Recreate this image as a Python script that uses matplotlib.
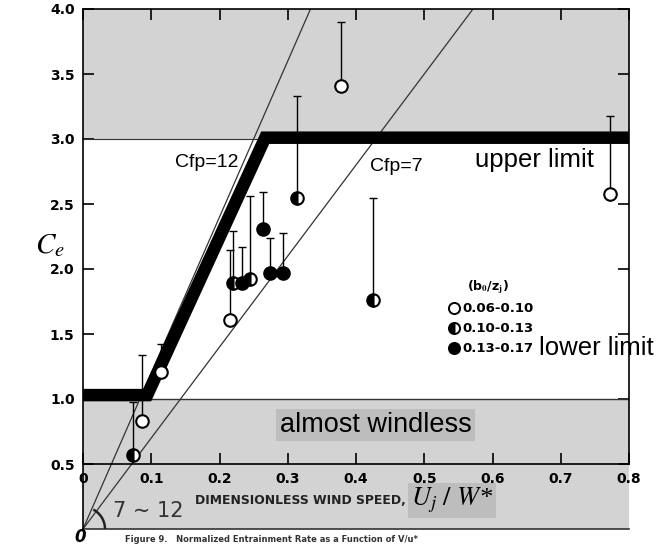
import matplotlib
matplotlib.use('Agg')
import matplotlib.pyplot as plt
import matplotlib.transforms as mtransforms
from matplotlib.patches import Rectangle, Arc

# data
open_x = [0.086, 0.115, 0.215, 0.378, 0.772]
open_y = [0.83, 1.21, 1.61, 3.41, 2.58]
open_top = [1.34, 1.42, 2.15, 3.90, 3.18]

half_x = [0.073, 0.220, 0.245, 0.313, 0.425]
half_y = [0.57, 1.89, 1.92, 2.55, 1.76]
half_top = [0.98, 2.29, 2.56, 3.33, 2.55]

full_x = [0.233, 0.264, 0.274, 0.293]
full_y = [1.89, 2.31, 1.97, 1.97]
full_top = [2.17, 2.59, 2.24, 2.28]

# thick envelope (lower limit / slope / upper limit)
limit_x = [0.0, 0.094, 0.267, 0.8]
limit_y = [1.03, 1.03, 3.01, 3.01]

cfp_values = [12, 7]
legend_labels = ['0.06-0.10', '0.10-0.13', '0.13-0.17']
xticks = [0, 0.1, 0.2, 0.3, 0.4, 0.5, 0.6, 0.7, 0.8]
xticklabels = ['0', '0.1', '0.2', '0.3', '0.4', '0.5', '0.6', '0.7', '0.8']
yticks = [0.5, 1.0, 1.5, 2.0, 2.5, 3.0, 3.5, 4.0]

plt.rcParams['mathtext.fontset'] = 'stix'
fig = plt.figure(figsize=(6.62, 5.46), dpi=100)
ax = fig.add_axes([83 / 662, (546 - 529) / 546, (629 - 83) / 662, (529 - 9) / 546])
ax.set_xlim(0, 0.8)
ax.set_ylim(0, 4.0)

gray = '#d3d3d3'
# shaded bands
ax.add_patch(Rectangle((0, 3.0), 0.8, 1.0, color=gray, zorder=0, lw=0))
ax.add_patch(Rectangle((0, 0.0), 0.8, 1.0, color=gray, zorder=0, lw=0))

# frame lines
for s in ['top', 'left']:
    ax.spines[s].set_linewidth(1.2)
ax.spines['bottom'].set_position(('data', 0.5))
ax.spines['bottom'].set_linewidth(1.2)
ax.spines['right'].set_bounds(0.5, 4.0)
ax.spines['right'].set_linewidth(1.2)
ax.plot([0, 0.8], [0, 0], color='#333333', lw=1.2, clip_on=False)
ax.plot([0, 0.8], [1.0, 1.0], color='#333333', lw=1.0)
ax.plot([0, 0.8], [3.0, 3.0], color='#333333', lw=0.8)

# Cfp lines through the origin
for c in cfp_values:
    ax.plot([0, 4.0 / c], [0, 4.0], color='#333333', lw=0.9, zorder=2)

ax.plot(limit_x, limit_y, color='black', lw=9, solid_capstyle='butt',
        solid_joinstyle='miter', zorder=3)

def draw_points(xs, ys, tops, **kw):
    err = [[0] * len(ys), [t - y for t, y in zip(tops, ys)]]
    ax.errorbar(xs, ys, yerr=err, fmt='none', ecolor='black', elinewidth=1.0,
                capsize=3, capthick=1.0, zorder=4)
    ax.plot(xs, ys, ls='none', marker='o', markersize=9, markeredgecolor='black',
            markeredgewidth=1.5, zorder=5, **kw)

draw_points(open_x, open_y, open_top, markerfacecolor='white')
draw_points(half_x, half_y, half_top, markerfacecolor='black', fillstyle='left',
            markerfacecoloralt='white')
draw_points(full_x, full_y, full_top, markerfacecolor='black')

# ticks
ax.set_xticks(xticks)
ax.set_xticklabels(xticklabels)
ax.set_yticks(yticks)
ax.set_yticklabels([f'{v:.1f}' for v in yticks])
ax.tick_params(axis='both', direction='in', length=8, width=1.2,
               labelsize=10, pad=6)
ax.tick_params(axis='x', top=True)
ax.tick_params(axis='y', right=True)
for lab in ax.get_xticklabels() + ax.get_yticklabels():
    lab.set_fontweight('bold')

# annotations
ax.text(0.135, 2.82, 'Cfp=12', fontsize=14, family='Liberation Sans', va='center')
ax.text(0.42, 2.79, 'Cfp=7', fontsize=14, family='Liberation Sans', va='center')
ax.text(0.574, 2.84, 'upper limit', fontsize=18.5, family='Liberation Sans', va='center')
ax.text(0.668, 1.39, 'lower limit', fontsize=18.5, family='Liberation Sans',
        va='center', clip_on=False)
ax.text(0.288, 0.80, 'almost windless', fontsize=19.5, family='Liberation Sans',
        va='center', bbox=dict(boxstyle='square,pad=0.12', fc='#bdbdbd', ec='none'))
ax.text(0.164, 0.22, 'DIMENSIONLESS WIND SPEED,', fontsize=8.9, fontweight='bold',
        va='center', color='#222222')
ax.text(0.480, 0.22, r'$U_j\ /\ W$*', fontsize=19, va='center',
        family='Liberation Serif', style='italic',
        bbox=dict(boxstyle='square,pad=0.1', fc='#bdbdbd', ec='none'))
ax.text(0.044, 0.14, '7 ∼ 12', fontsize=15, color='#333333', va='center')

# angle mark at the origin (round arc, sized in inches around the data origin)
arc_tr = fig.dpi_scale_trans + mtransforms.ScaledTranslation(0, 0, ax.transData)
ax.add_patch(Arc((0, 0), 0.44, 0.44, theta1=0, theta2=62, color='#222222',
                 lw=1.8, clip_on=False, zorder=3, transform=arc_tr))
ax.text(-0.004, -0.065, '0', fontsize=12, fontweight='bold', style='italic',
        ha='center', va='center', clip_on=False)

# legend drawn by hand like in the original
ax.text(0.562, 1.86, r'(b$_\mathbf{0}$/z$_\mathbf{j}$)', fontsize=9, fontweight='bold',
        va='center')
leg_y = [1.70, 1.545, 1.39]
styles = [dict(markerfacecolor='white'),
          dict(markerfacecolor='black', fillstyle='left', markerfacecoloralt='white'),
          dict(markerfacecolor='black')]
for y, lab, st in zip(leg_y, legend_labels, styles):
    ax.plot([0.543], [y], marker='o', markersize=8, markeredgecolor='black',
            markeredgewidth=1.4, ls='none', **st)
    ax.text(0.556, y, lab, fontsize=9.5, fontweight='bold', va='center')

fig.text(35 / 662, 1 - 245 / 546, r'$C_e$', fontsize=21, va='center')
fig.text(125 / 662, 1 - 539 / 546,
         'Figure 9.   Normalized Entrainment Rate as a Function of V/u*',
         fontsize=6, fontweight='bold', va='center', color='#333333')

fig.savefig('out.png', dpi=100)
